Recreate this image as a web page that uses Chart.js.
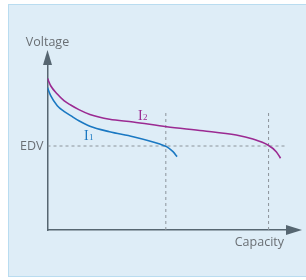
<!DOCTYPE html>
<html>
<head>
<meta charset="utf-8">
<script src="https://cdn.jsdelivr.net/npm/chart.js@4.4.1/dist/chart.umd.min.js"></script>
<style>
  body { margin: 0; background: #fff; }
  #wrap { position: relative; width: 306px; height: 280px; }
  #box {
    position: absolute; left: 8px; top: 4px; width: 306px; height: 273px;
    background: #deedf7; border: 1px solid #b9dcf0; box-sizing: border-box;
  }
  #c { position: absolute; left: 0; top: 0; }
</style>
</head>
<body>
<div id="wrap">
  <div id="box"></div>
  <canvas id="c" width="306" height="280"></canvas>
</div>
<script>
// capacity / voltage in arbitrary units (0..100)
let capI2 = [0, 1.33, 4.08, 6.875, 9.67, 13.1, 17.7, 25.9, 35.75, 49.7, 64.9, 78.8, 85.75, 92.0, 95.5, 97.3];
let voltI2 = [91.3, 86.9, 81.9, 77.9, 75.3, 72.5, 69.6, 66.7, 65.1, 62.2, 59.8, 57.2, 54.8, 51.2, 47.2, 43.2];

let capI1 = [0, 1.33, 4.08, 6.875, 9.67, 13.1, 17.7, 25.9, 35.75, 46.9, 49.7, 52.4, 54.1];
let voltI1 = [85.8, 80.9, 74.9, 71.5, 68.9, 65.8, 62.5, 59.2, 56.2, 51.8, 50.2, 47.2, 44.2];

let edv = 50.6;
let edvEnd = 99;
let capCut = [49.4, 92.3]; // where each curve hits EDV
let cutTop = 70.5;

let labels = ["Voltage", "EDV", "Capacity"];

let toPts = (xs, ys) => xs.map((x, i) => ({ x: x, y: ys[i] }));

let dashed = {
  borderColor: "#8c949b",
  borderWidth: 1,
  borderDash: [3, 3],
  pointRadius: 0,
  tension: 0,
  order: 2,
};

// arrows + text labels
let decor = {
  id: "decor",
  afterDraw(chart) {
    let ctx = chart.ctx;
    let xs = chart.scales.x;
    let ys = chart.scales.y;
    let x0 = xs.getPixelForValue(0);
    let y0 = ys.getPixelForValue(0);
    let top = ys.getPixelForValue(100);
    let right = xs.getPixelForValue(100);
    ctx.save();
    ctx.fillStyle = "#566671";
    ctx.beginPath();
    ctx.moveTo(x0 - 4.5, top + 1);
    ctx.lineTo(x0 + 4.5, top + 1);
    ctx.lineTo(x0, top - 14);
    ctx.closePath();
    ctx.fill();
    ctx.beginPath();
    ctx.moveTo(right - 1, y0 - 5);
    ctx.lineTo(right - 1, y0 + 5);
    ctx.lineTo(right + 15, y0);
    ctx.closePath();
    ctx.fill();

    ctx.fillStyle = "#6a6f74";
    ctx.font = "12.5px 'Open Sans'";
    ctx.textBaseline = "middle";
    ctx.textAlign = "center";
    ctx.fillText(labels[0], x0, 42);
    ctx.textAlign = "right";
    ctx.fillText(labels[1], x0 - 4, ys.getPixelForValue(edv));
    ctx.fillText(labels[2], 284, y0 + 12);

    // current labels
    ctx.textAlign = "left";
    ctx.font = "14px 'Liberation Serif'";
    ctx.fillStyle = "#9b2a92";
    ctx.fillText("I", 138, 116);
    ctx.font = "9px 'Liberation Serif'";
    ctx.fillText("2", 143, 118);
    ctx.font = "14px 'Liberation Serif'";
    ctx.fillStyle = "#1a78c2";
    ctx.fillText("I", 84, 136);
    ctx.font = "9px 'Liberation Serif'";
    ctx.fillText("1", 89, 138);
    ctx.restore();
  },
};

new Chart(document.getElementById("c"), {
  type: "scatter",
  data: {
    datasets: [
      {
        label: "I2",
        data: toPts(capI2, voltI2),
        showLine: true,
        borderColor: "#9b2a92",
        borderWidth: 1.6,
        pointRadius: 0,
        cubicInterpolationMode: "monotone",
        order: 0,
      },
      {
        label: "I1",
        data: toPts(capI1, voltI1),
        showLine: true,
        borderColor: "#1a78c2",
        borderWidth: 1.6,
        pointRadius: 0,
        cubicInterpolationMode: "monotone",
        order: 0,
      },
      Object.assign({ data: [{ x: 0, y: edv }, { x: edvEnd, y: edv }], showLine: true }, dashed),
      Object.assign({ data: [{ x: capCut[0], y: 0 }, { x: capCut[0], y: cutTop }], showLine: true }, dashed),
      Object.assign({ data: [{ x: capCut[1], y: 0 }, { x: capCut[1], y: cutTop }], showLine: true }, dashed),
    ],
  },
  options: {
    responsive: false,
    animation: false,
    layout: { padding: { left: 47.5, top: 64, right: 19, bottom: 50 } },
    plugins: { legend: { display: false }, tooltip: { enabled: false } },
    scales: {
      x: {
        min: 0,
        max: 100,
        grid: { display: false, drawTicks: false },
        ticks: { display: false },
        border: { display: true, color: "#566671", width: 1.5 },
      },
      y: {
        min: 0,
        max: 100,
        grid: { display: false, drawTicks: false },
        ticks: { display: false },
        border: { display: true, color: "#566671", width: 1.5 },
      },
    },
  },
  plugins: [decor],
});
</script>
</body>
</html>
